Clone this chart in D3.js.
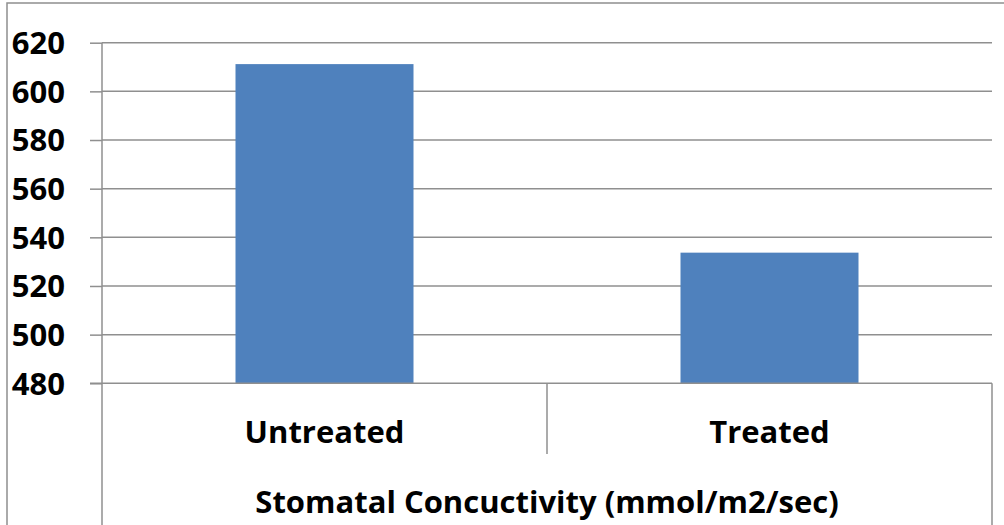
<!DOCTYPE html>
<html><head><meta charset="utf-8">
<script src="https://cdn.jsdelivr.net/npm/d3@7"></script>
<style>html,body{margin:0;padding:0;background:#fff;}svg{display:block;}
text{font-family:"Open Sans",sans-serif;font-weight:bold;fill:#000;}</style>
</head><body><div id="chart"></div>
<script>
const categories = ["Untreated", "Treated"];
const values = [611.2, 533.7];
const yTicks = [480, 500, 520, 540, 560, 580, 600, 620];
const axisTitle = "Stomatal Concuctivity (mmol/m2/sec)";

(function () {
const W = 1004, H = 525;
const pLeft = 102, pRight = 992, pTop = 42.7, pBottom = 383.3;
const gridColor = "#8f8f8f";

const svg = d3.select("#chart").append("svg").attr("width", W).attr("height", H);

// outer frame
svg.append("rect").attr("x", 7).attr("y", 3).attr("width", 1100).attr("height", 700)
  .attr("fill", "none").attr("stroke", gridColor).attr("stroke-width", 1.5);

const y = d3.scaleLinear().domain([480, 620]).range([pBottom, pTop]);
const x = d3.scaleBand().domain(categories).range([pLeft, pRight]).paddingInner(0.6).paddingOuter(0.3);

// gridlines + y ticks
const yAxis = d3.axisLeft(y).tickValues(yTicks).tickSize(12).tickPadding(25).tickFormat(d3.format("d"));
const gy = svg.append("g").attr("transform", `translate(${pLeft},0)`).call(yAxis);
gy.select(".domain").remove();
gy.selectAll(".tick line").attr("stroke", gridColor).attr("stroke-width", 1.5);
gy.selectAll(".tick text").style("font-size", "31px").attr("dy", "0.35em").attr("fill", "#000");
svg.append("g").selectAll("line").data(yTicks.filter(d => d !== 480)).join("line")
  .attr("x1", pLeft).attr("x2", pRight).attr("y1", d => y(d)).attr("y2", d => y(d))
  .attr("stroke", gridColor).attr("stroke-width", 1.5);

// bars
svg.append("g").selectAll("rect").data(values).join("rect")
  .attr("x", (d, i) => x(categories[i]))
  .attr("width", x.bandwidth())
  .attr("y", d => y(d))
  .attr("height", d => y(480) - y(d))
  .attr("fill", "#4f81bd");

// y axis line
svg.append("line").attr("x1", pLeft).attr("x2", pLeft).attr("y1", pTop).attr("y2", H + 5)
  .attr("stroke", gridColor).attr("stroke-width", 1.5);
// x axis line
svg.append("line").attr("x1", pLeft - 12).attr("x2", pRight).attr("y1", pBottom).attr("y2", pBottom)
  .attr("stroke", gridColor).attr("stroke-width", 1.5);
// right edge of category table
svg.append("line").attr("x1", pRight).attr("x2", pRight).attr("y1", pBottom).attr("y2", H + 5)
  .attr("stroke", gridColor).attr("stroke-width", 1.5);
// category separator
const step = x.step();
svg.append("line").attr("x1", pLeft + step).attr("x2", pLeft + step).attr("y1", pBottom).attr("y2", 454)
  .attr("stroke", gridColor).attr("stroke-width", 1.5);

// category labels
svg.append("g").selectAll("text").data(categories).join("text")
  .attr("x", d => x(d) + x.bandwidth() / 2).attr("y", 443)
  .attr("text-anchor", "middle").style("font-size", "31px").text(d => d);

// axis title
svg.append("text").attr("x", (pLeft + pRight) / 2).attr("y", 513)
  .attr("text-anchor", "middle").style("font-size", "31px").text(axisTitle);
})();
</script></body></html>
